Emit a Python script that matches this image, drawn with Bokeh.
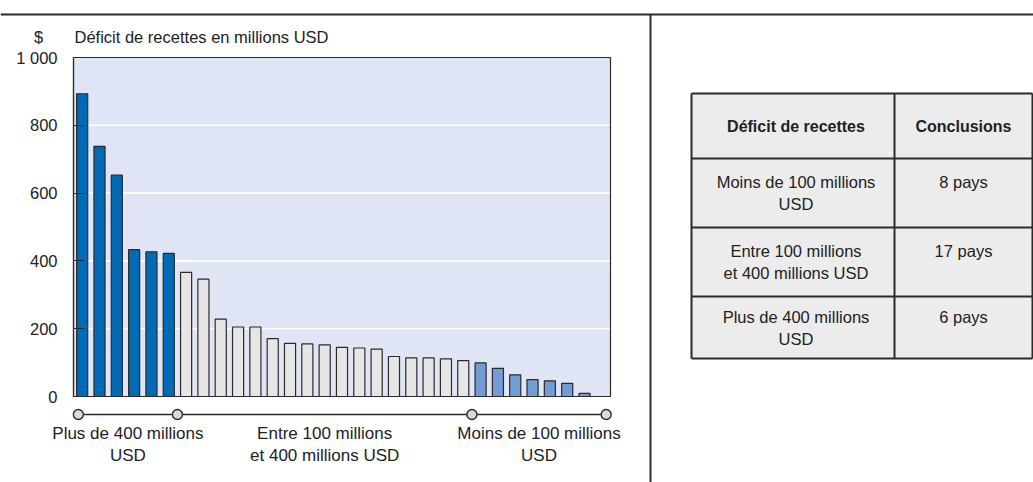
from bokeh.plotting import figure
from bokeh.models import Range1d, FixedTicker, ColumnDataSource
from bokeh.embed import file_html
from bokeh.resources import INLINE
from bokeh.core.properties import value

# ---------------- data ----------------
chart_title = "Déficit de recettes en millions USD"
unit_label = "$"
# revenue shortfall per country (USD millions), by group, sorted descending
shortfall_over_400 = [893, 738, 653, 433, 427, 422]
shortfall_100_400 = [366, 346, 228, 205, 205, 171, 157, 155, 152, 145, 143, 140, 118, 114, 114, 111, 106]
shortfall_under_100 = [99, 83, 64, 50, 46, 39, 9, 0]
group_labels = ["Plus de 400 millions\nUSD", "Entre 100 millions\net 400 millions USD", "Moins de 100 millions\nUSD"]
y_ticks = [0, 200, 400, 600, 800, 1000]
y_tick_labels = ["0", "200", "400", "600", "800", "1 000"]
table_header = ["Déficit de recettes", "Conclusions"]
table_row_labels = ["Moins de 100 millions\nUSD", "Entre 100 millions\net 400 millions USD", "Plus de 400 millions\nUSD"]
table_counts = [len(shortfall_under_100), len(shortfall_100_400), len(shortfall_over_400)]
count_suffix = "pays"

# ---------------- style ----------------
FONT = "Liberation Sans"
DARK = "#2b2b2b"
TXT = "#222222"
group_colors = ["#006ab4", "#e6e6e6", "#739cd4"]
BG = "#dfe5f4"
W, H = 1033, 482

groups = [shortfall_over_400, shortfall_100_400, shortfall_under_100]
vals, cols = [], []
for g, c in zip(groups, group_colors):
    vals += g
    cols += [c] * len(g)
n = len(vals)
xs = list(range(1, n + 1))
y_max = y_ticks[-1]

# placement of the bar panel on the page (pixels)
PL, PR, PT, PB = 73, 610, 57, 396
ppu = (PR - PL) / n
ppy = (PB - PT) / y_max

p = figure(width=W, height=H,
           x_range=Range1d(0.5 - PL / ppu, n + 0.5 + (W - PR) / ppu),
           y_range=Range1d(-(H - PB) / ppy, y_max + PT / ppy),
           output_backend="svg", toolbar_location=None,
           min_border_left=0, min_border_right=0, min_border_top=0, min_border_bottom=0)
p.extra_x_ranges = {"px": Range1d(0, W)}
p.extra_y_ranges = {"py": Range1d(H, 0)}
p.background_fill_color = "white"
p.border_fill_color = "white"
p.outline_line_color = None
p.xaxis.visible = False
p.grid.visible = False

# plot area background + gridlines
p.quad(left=0.5, right=n + 0.5, bottom=0, top=y_max, fill_color=BG, line_color=None)
inner = [t for t in y_ticks if 0 < t < y_max]
p.segment(x0=[0.5] * len(inner), x1=[n + 0.5] * len(inner), y0=inner, y1=inner,
          line_color="white", line_width=1.6)

# bars
src = ColumnDataSource(dict(x=xs, top=vals, color=cols))
p.vbar(x="x", top="top", width=0.64, bottom=0, fill_color="color", line_color=DARK, line_width=1.2, source=src)

# frame outline
p.quad(left=0.5, right=n + 0.5, bottom=0, top=y_max, fill_color=None, line_color=DARK, line_width=1.2)

# y axis at the left edge of the bar panel
ax = p.yaxis[0]
ax.fixed_location = 0.5
ax.bounds = (0, y_max)
ax.ticker = FixedTicker(ticks=y_ticks)
ax.major_label_overrides = {t: lab for t, lab in zip(y_ticks, y_tick_labels)}
ax.major_tick_in = 11
ax.major_tick_out = 0
ax.minor_tick_line_color = None
ax.axis_line_color = DARK
ax.axis_line_width = 1.2
ax.major_tick_line_color = DARK
ax.major_tick_line_width = 1.2
ax.major_label_standoff = 16
ax.major_label_text_font = FONT
ax.major_label_text_font_size = "16.5px"
ax.major_label_text_color = TXT

# texts above the panel
p.text(x=[38], y=[36], text=[unit_label], x_range_name="px", y_range_name="py",
       text_align="center", text_baseline="middle", text_font=value(FONT), text_font_size="16.5px", text_color=TXT)
p.text(x=[74], y=[36], text=[chart_title], x_range_name="px", y_range_name="py",
       text_align="left", text_baseline="middle", text_font=value(FONT), text_font_size="16.5px", text_color=TXT)

# page rules
p.segment(x0=[0, 650], y0=[14, 14], x1=[W, 650], y1=[14, H], x_range_name="px", y_range_name="py",
          line_color=DARK, line_width=2)

# ---------------- group annotation strip ----------------
counts = [len(g) for g in groups]
bounds = [0.5]
for c in counts:
    bounds.append(bounds[-1] + c)
bounds[0] += 0.28
bounds[-1] -= 0.25
LINE_Y = 414
p.line(x=bounds, y=[LINE_Y] * len(bounds), y_range_name="py", line_color=DARK, line_width=1.4)
p.scatter(x=bounds, y=[LINE_Y] * len(bounds), y_range_name="py", size=10,
          fill_color="#d9d9d9", line_color=DARK, line_width=1.4)
mids = [(bounds[i] + bounds[i + 1]) / 2 for i in range(len(counts))]
l1 = [s.split("\n")[0] for s in group_labels]
l2 = [s.split("\n")[1] for s in group_labels]
p.text(x=mids, y=[433] * 3, text=l1, y_range_name="py", text_align="center", text_baseline="middle",
       text_font=value(FONT), text_font_size="17px", text_color=TXT)
p.text(x=mids, y=[455] * 3, text=l2, y_range_name="py", text_align="center", text_baseline="middle",
       text_font=value(FONT), text_font_size="17px", text_color=TXT)

# ---------------- table ----------------
TL, TR, TC = 691, 1032, 894
rows_y = [93, 158, 227, 296, 358]
p.quad(left=TL, right=TR, top=rows_y[0], bottom=rows_y[-1], x_range_name="px", y_range_name="py",
       fill_color="#ececec", line_color=None)
seg_x0 = [TL] * len(rows_y) + [TL, TC, TR]
seg_x1 = [TR] * len(rows_y) + [TL, TC, TR]
seg_y0 = rows_y + [rows_y[0]] * 3
seg_y1 = rows_y + [rows_y[-1]] * 3
p.segment(x0=seg_x0, y0=seg_y0, x1=seg_x1, y1=seg_y1, x_range_name="px", y_range_name="py",
          line_color=DARK, line_width=2)

c1 = (TL + TC) / 2 + 3
c2 = (TC + TR) / 2
hy = (rows_y[0] + rows_y[1]) / 2
p.text(x=[c1, c2], y=[hy, hy], text=table_header, x_range_name="px", y_range_name="py",
       text_align="center", text_baseline="middle",
       text_font=value(FONT), text_font_size="16px", text_font_style="bold", text_color=TXT)
for i, (lab, cnt) in enumerate(zip(table_row_labels, table_counts)):
    cy = (rows_y[i + 1] + rows_y[i + 2]) / 2
    lines = lab.split("\n")
    p.text(x=[c1, c1], y=[cy - 11, cy + 11], text=lines, x_range_name="px", y_range_name="py",
           text_align="center", text_baseline="middle",
           text_font=value(FONT), text_font_size="16.5px", text_color=TXT)
    p.text(x=[c2], y=[cy - 11], text=[f"{cnt} {count_suffix}"], x_range_name="px", y_range_name="py",
           text_align="center", text_baseline="middle",
           text_font=value(FONT), text_font_size="16.5px", text_color=TXT)

open("out.html", "w").write(file_html(p, INLINE))
